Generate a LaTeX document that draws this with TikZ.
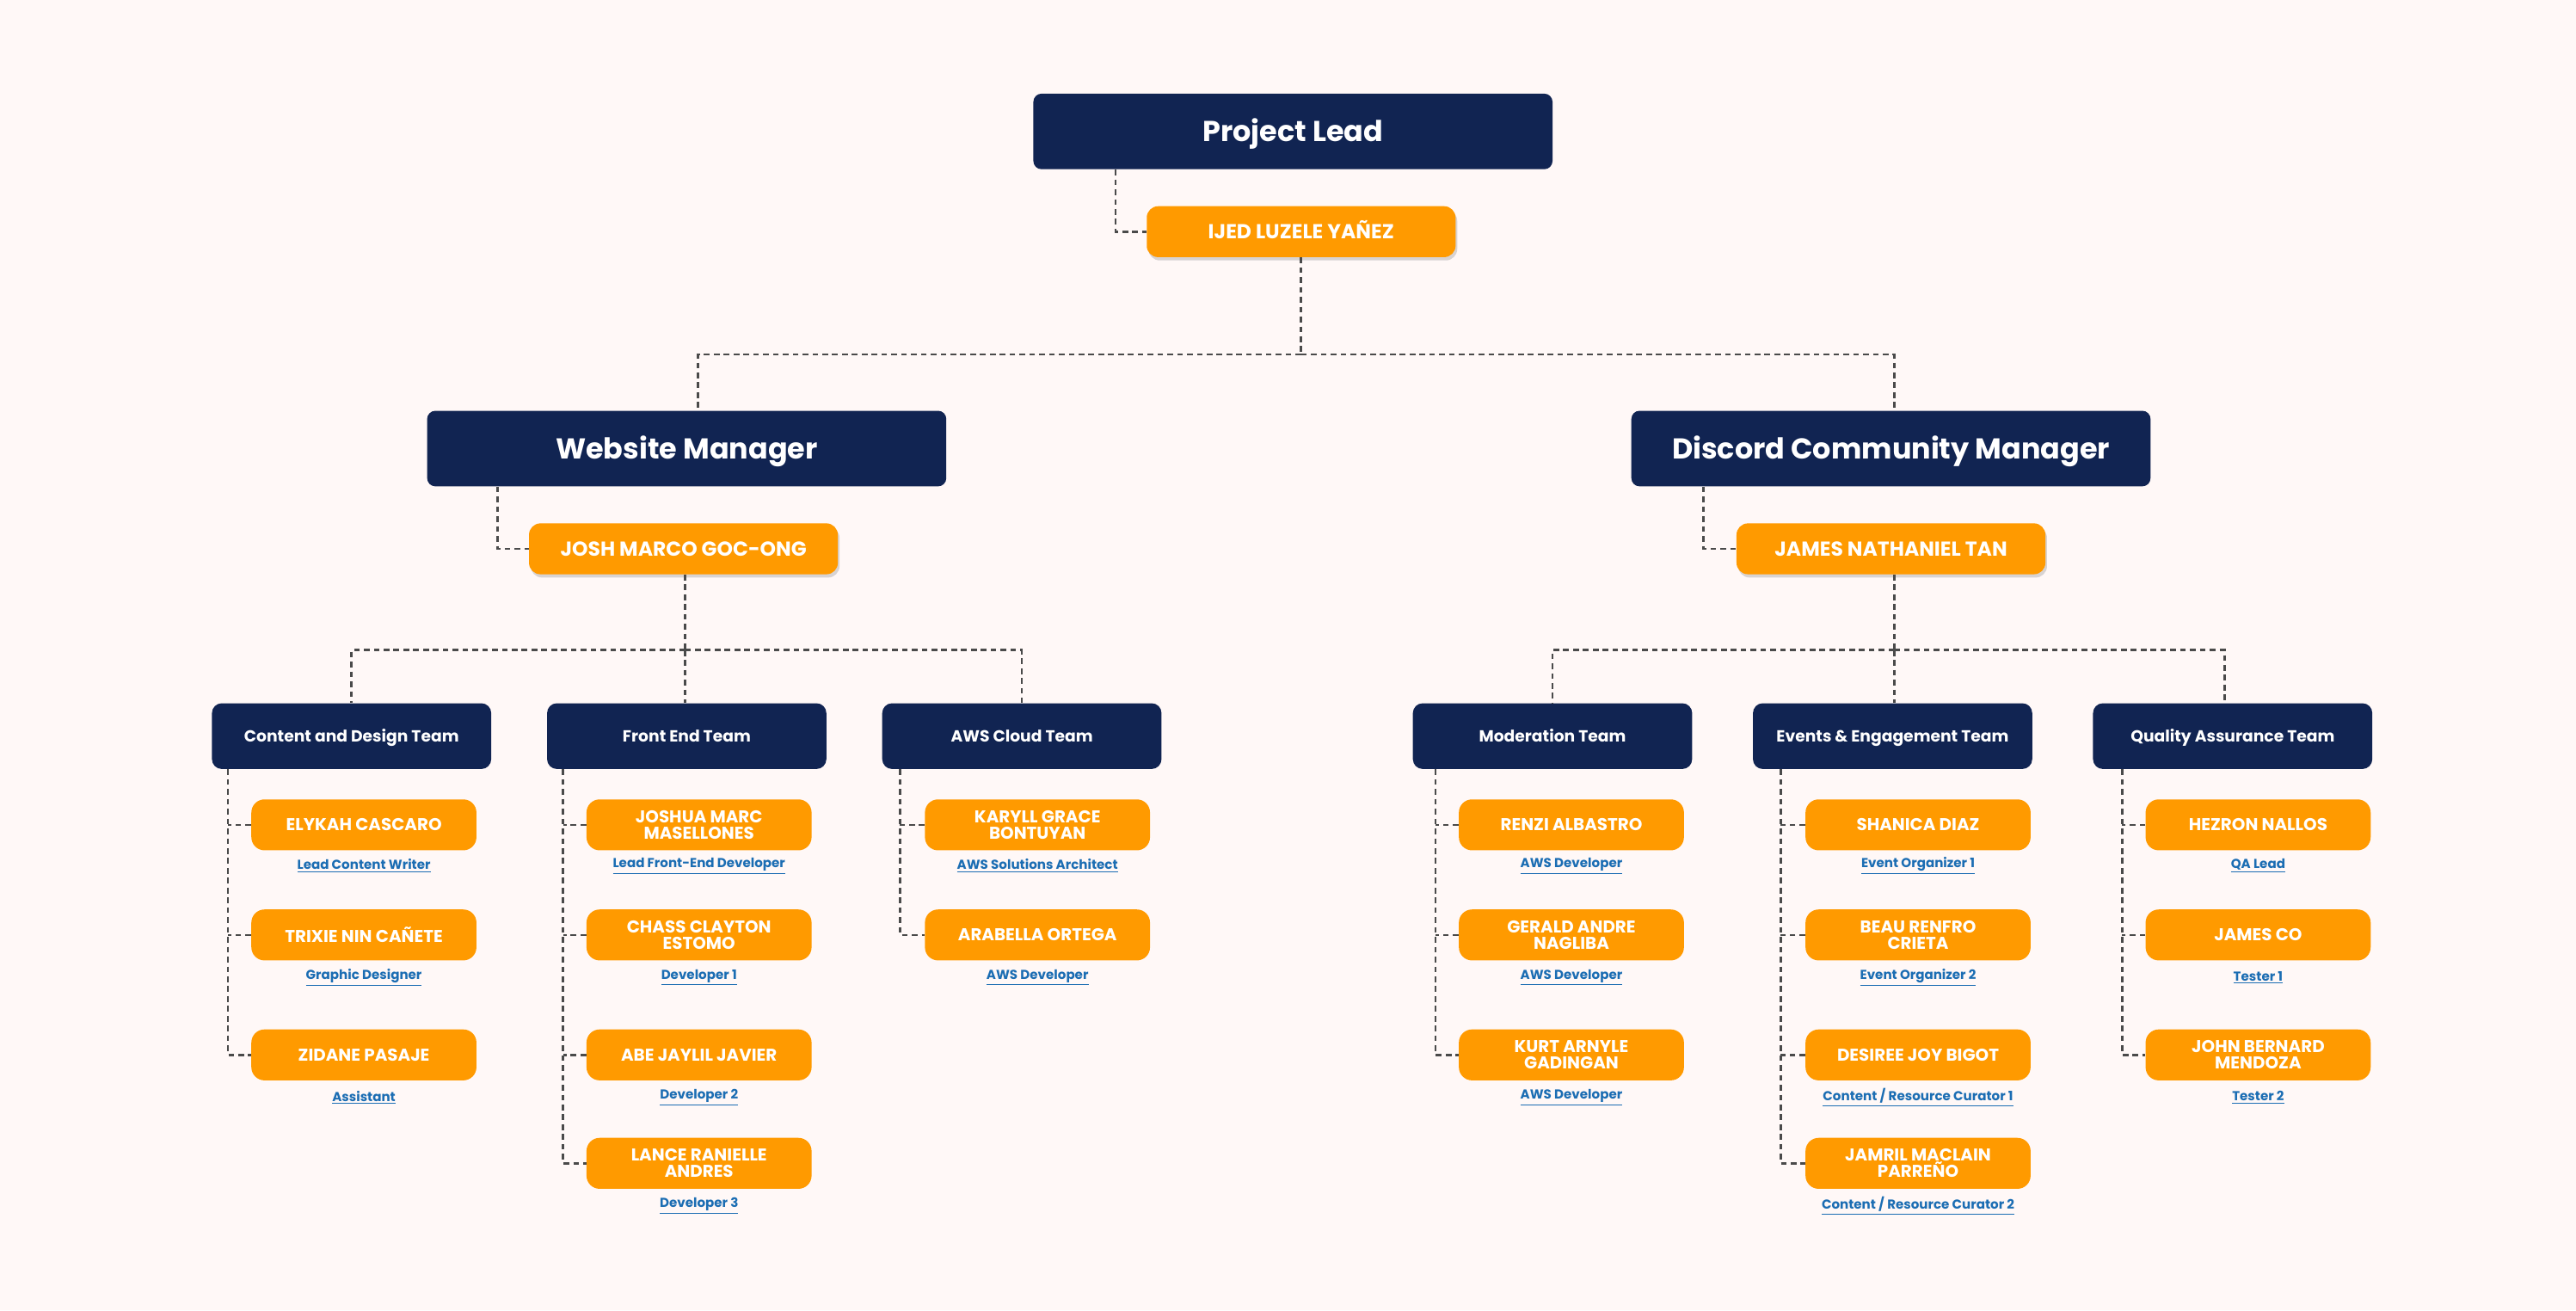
\documentclass[tikz,border=0pt]{standalone}
\usepackage{fontspec}
\setmainfont{Poppins}
\usetikzlibrary{shadows}
\definecolor{bg}{HTML}{FFF8F7}
\definecolor{navy}{HTML}{112452}
\definecolor{orng}{HTML}{FF9A00}
\definecolor{lnk}{HTML}{1B6DB3}
\definecolor{dashc}{HTML}{4A4A4A}
\tikzset{
 topbox/.style={text height=12.3pt, text depth=0pt, fill=navy, rounded corners=5pt, minimum width=316pt, minimum height=46pt, text=white, font=\bfseries\fontsize{17.5}{17.5}\selectfont, inner sep=0},
 leadbox/.style={text height=8.6pt, text depth=0pt, fill=orng, rounded corners=7pt, minimum width=188pt, minimum height=31pt, text=white, font=\bfseries\fontsize{12.3}{12.3}\selectfont, inner sep=0, drop shadow={shadow xshift=1pt, shadow yshift=-2pt, opacity=0.25, fill=black!60}},
 teambox/.style={text height=6.9pt, text depth=0pt, fill=navy, rounded corners=6pt, minimum width=170pt, minimum height=40pt, text=white, font=\bfseries\fontsize{9.8}{9.8}\selectfont, inner sep=0},
 membox/.style={fill=orng, rounded corners=8pt, minimum width=137pt, minimum height=31pt, text=white, align=center, font=\bfseries\fontsize{10.4}{9.8}\selectfont, inner sep=0},
 rolelbl/.style={text=lnk, font=\bfseries\fontsize{7.9}{7.9}\selectfont, inner sep=0},
 conn/.style={draw=dashc, line width=1.4pt, dash pattern=on 3.5pt off 2.5pt},
}
\newcommand\mem[6]{%
 \node[membox] (#1) at (#2,#3) {#4};
 \node[rolelbl] (#1r) at (#2,#3+#6) {\underline{#5}};
}
\begin{document}
\begin{tikzpicture}[x=1pt,y=-1pt]
\path[fill=bg,use as bounding box] (0,0) rectangle (1568,797.4);

% top level
\node[topbox] (pl) at (787,80) {Project Lead};
\node[leadbox] (ijed) at (792,141) {IJED LUZELE YAÑEZ};
\draw[conn] ([xshift=-108pt]pl.south) |- (ijed.west);

\node[topbox] (wm) at (418,273) {Website Manager};
\node[topbox] (dcm) at (1151,273) {Discord Community Manager};
\draw[conn] (ijed.south) -- ++(0,59) coordinate (b1);
\draw[conn] (b1) -| ([xshift=7pt]wm.north);
\draw[conn] (b1) -| ([xshift=2pt]dcm.north);

\node[leadbox] (josh) at (416,334) {JOSH MARCO GOC-ONG};
\node[leadbox] (jnt) at (1151,334) {JAMES NATHANIEL TAN};
\draw[conn] ([xshift=-115pt]wm.south) |- (josh.west);
\draw[conn] ([xshift=-114pt]dcm.south) |- (jnt.west);

% teams
\node[teambox] (cd) at (214,448) {Content and Design Team};
\node[teambox] (fe) at (418,448) {Front End Team};
\node[teambox] (aws) at (622,448) {AWS Cloud Team};
\node[teambox] (mod) at (945,448) {Moderation Team};
\node[teambox] (ev) at (1152,448) {Events \& Engagement Team};
\node[teambox] (qa) at (1359,448) {Quality Assurance Team};

\draw[conn] ([xshift=1pt]josh.south) -- ++(0,46) coordinate (b2);
\draw[conn] (b2) -| (cd.north);
\draw[conn] (b2) -- (fe.north -| b2);
\draw[conn] (b2) -| (aws.north);
\draw[conn] ([xshift=2pt]jnt.south) -- ++(0,46) coordinate (b3);
\draw[conn] (b3) -| (mod.north);
\draw[conn] (b3) -- (ev.north -| b3);
\draw[conn] (b3) -| ([xshift=-5pt]qa.north);

% Content and Design
\mem{c1}{221.5}{502}{ELYKAH CASCARO}{Lead Content Writer}{25}
\mem{c2}{221.5}{569}{TRIXIE NIN CAÑETE}{Graphic Designer}{26}
\mem{c3}{221.5}{642}{ZIDANE PASAJE}{Assistant}{26}
% Front End
\mem{f1}{425.5}{502}{JOSHUA MARC\\MASELLONES}{Lead Front-End Developer}{25}
\mem{f2}{425.5}{569}{CHASS CLAYTON\\ESTOMO}{Developer 1}{26}
\mem{f3}{425.5}{642}{ABE JAYLIL JAVIER}{Developer 2}{26}
\mem{f4}{425.5}{708}{LANCE RANIELLE\\ANDRES}{Developer 3}{26}
% AWS
\mem{a1}{631.5}{502}{KARYLL GRACE\\BONTUYAN}{AWS Solutions Architect}{25}
\mem{a2}{631.5}{569}{ARABELLA ORTEGA}{AWS Developer}{26}
% Moderation
\mem{m1}{956.5}{502}{RENZI ALBASTRO}{AWS Developer}{25}
\mem{m2}{956.5}{569}{GERALD ANDRE\\NAGLIBA}{AWS Developer}{26}
\mem{m3}{956.5}{642}{KURT ARNYLE\\GADINGAN}{AWS Developer}{26}
% Events
\mem{e1}{1167.5}{502}{SHANICA DIAZ}{Event Organizer 1}{25}
\mem{e2}{1167.5}{569}{BEAU RENFRO\\CRIETA}{Event Organizer 2}{26}
\mem{e3}{1167.5}{642}{DESIREE JOY BIGOT}{Content / Resource Curator 1}{26}
\mem{e4}{1167.5}{708}{JAMRIL MACLAIN\\PARREÑO}{Content / Resource Curator 2}{26}
% QA
\mem{q1}{1374.5}{502}{HEZRON NALLOS}{QA Lead}{25}
\mem{q2}{1374.5}{569}{JAMES CO}{Tester 1}{26}
\mem{q3}{1374.5}{642}{JOHN BERNARD\\MENDOZA}{Tester 2}{26}

% spines
\draw[conn] ([xshift=10pt]cd.south west) |- (c3.west);
\draw[conn] (c1.west) -- ++(-14pt,0);
\draw[conn] (c2.west) -- ++(-14pt,0);
\draw[conn] ([xshift=10pt]fe.south west) |- (f4.west);
\draw[conn] (f1.west) -- ++(-14pt,0);
\draw[conn] (f2.west) -- ++(-14pt,0);
\draw[conn] (f3.west) -- ++(-14pt,0);
\draw[conn] ([xshift=11pt]aws.south west) |- (a2.west);
\draw[conn] (a1.west) -- ++(-15pt,0);
\draw[conn] ([xshift=14pt]mod.south west) |- (m3.west);
\draw[conn] (m1.west) -- ++(-14pt,0);
\draw[conn] (m2.west) -- ++(-14pt,0);
\draw[conn] ([xshift=17pt]ev.south west) |- (e4.west);
\draw[conn] (e1.west) -- ++(-15pt,0);
\draw[conn] (e2.west) -- ++(-15pt,0);
\draw[conn] (e3.west) -- ++(-15pt,0);
\draw[conn] ([xshift=18pt]qa.south west) |- (q3.west);
\draw[conn] (q1.west) -- ++(-14pt,0);
\draw[conn] (q2.west) -- ++(-14pt,0);
\end{tikzpicture}
\end{document}
